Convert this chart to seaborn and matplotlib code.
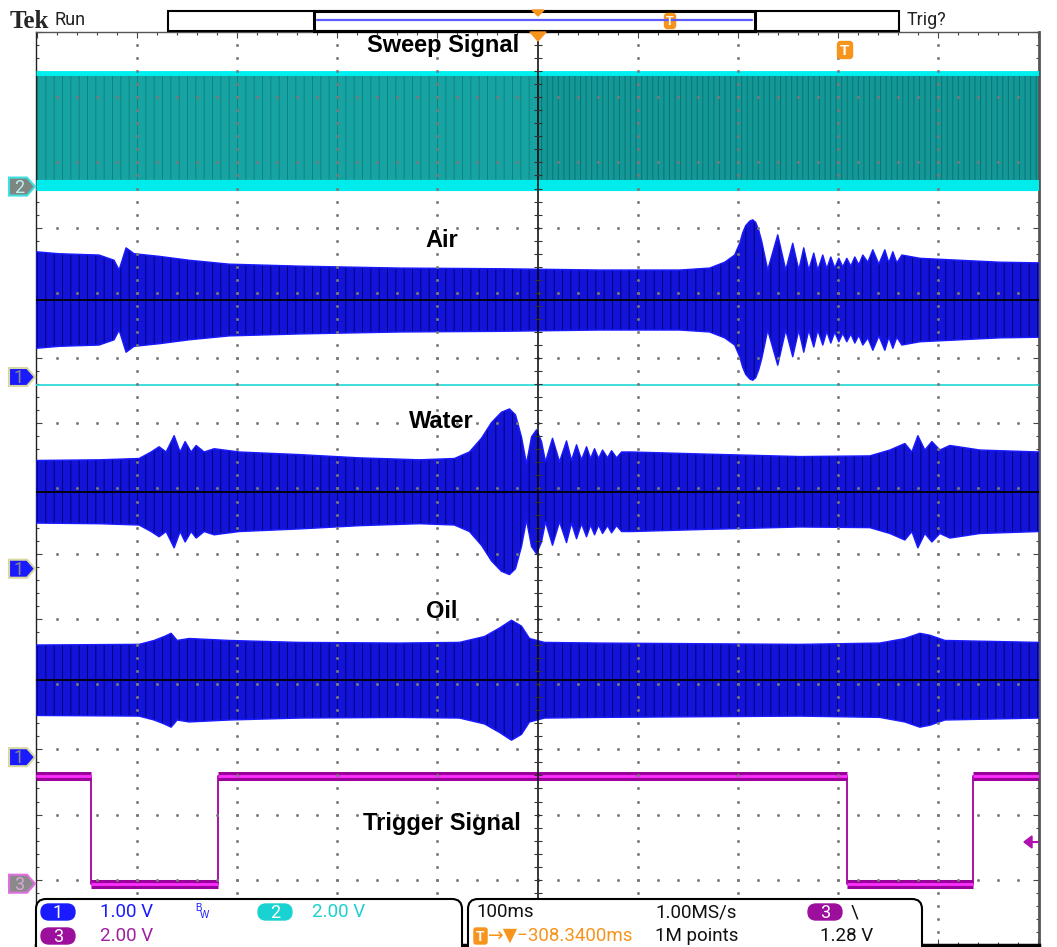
import numpy as np
import matplotlib
matplotlib.use("Agg")
import matplotlib.pyplot as plt
import seaborn as sns
from matplotlib.patches import FancyBboxPatch, Polygon, Rectangle

# ---------------- data ----------------
# horizontal: 100 ms/div (time in ms, 0 = screen centre); vertical: divisions
ch1_scale_v = 1.00
ch2_scale_v = 2.00
ch3_scale_v = 2.00

ch2_offset_div = 11.63
ch1_offsets_div = [8.71, 5.77, 2.88]          # Air, Water, Oil captures
ch3_offset_div = 0.94

sweep_t_ms = [-501, 0, 501]
sweep_low_v = 0.0
sweep_high_v = 3.47

ch1_dc_v = 1.18

air_t_ms = [-501, -478, -438, -423, -418, -411, -403, -378, -348, -308, -238, -138, -38, 62, 142,
            172, 187, 197, 202, 205, 208, 212, 215, 218, 221, 224, 230, 240, 248, 255, 261, 266,
            271, 276, 280, 285, 289, 293, 297, 301, 305, 309, 313, 317, 321, 325, 330, 335, 341,
            347, 351, 355, 359, 364, 382, 422, 462, 501]
air_amp_v = [0.74, 0.71, 0.69, 0.61, 0.46, 0.80, 0.71, 0.67, 0.61, 0.55, 0.52, 0.49, 0.48, 0.46, 0.46,
             0.49, 0.58, 0.69, 0.87, 1.03, 1.14, 1.21, 1.23, 1.19, 1.07, 0.90, 0.46, 1.00, 0.46, 0.87,
             0.46, 0.80, 0.46, 0.72, 0.46, 0.69, 0.48, 0.66, 0.49, 0.64, 0.51, 0.64, 0.52, 0.66, 0.54,
             0.69, 0.58, 0.77, 0.55, 0.77, 0.57, 0.74, 0.57, 0.69, 0.64, 0.61, 0.58, 0.57]

water_t_ms = [-501, -438, -398, -386, -378, -371, -363, -357, -352, -346, -341, -333, -323, -298,
              -238, -178, -118, -83, -68, -56, -46, -36, -28, -22, -16, -11, -6, -1, 4, 8, 15, 22,
              29, 34, 39, 44, 49, 53, 57, 61, 65, 70, 74, 79, 84, 94, 162, 262, 332, 352, 367, 374,
              380, 387, 394, 402, 412, 442, 501]
water_amp_v = [0.48, 0.49, 0.51, 0.61, 0.69, 0.61, 0.86, 0.61, 0.77, 0.61, 0.71, 0.61, 0.66, 0.61,
               0.57, 0.52, 0.49, 0.51, 0.61, 0.82, 1.06, 1.22, 1.27, 1.18, 0.84, 0.43, 0.84, 0.95,
               0.77, 0.46, 0.82, 0.46, 0.78, 0.48, 0.72, 0.49, 0.69, 0.51, 0.66, 0.51, 0.64, 0.52,
               0.63, 0.52, 0.61, 0.61, 0.58, 0.54, 0.55, 0.64, 0.74, 0.61, 0.86, 0.64, 0.77, 0.64,
               0.71, 0.64, 0.61]

oil_t_ms = [-501, -398, -383, -373, -366, -360, -348, -308, -238, -138, -78, -53, -38, -26, -16,
            -8, 7, 62, 262, 342, 367, 382, 392, 407, 501]
oil_amp_v = [0.54, 0.55, 0.61, 0.67, 0.72, 0.61, 0.64, 0.61, 0.58, 0.57, 0.58, 0.67, 0.80, 0.92,
             0.83, 0.64, 0.58, 0.57, 0.55, 0.57, 0.64, 0.72, 0.69, 0.61, 0.58]

trigger_t_ms = [-501, -446, -319, 309, 435, 501]
trigger_v = [3.3, 0.0, 3.3, 0.0, 3.3, 3.3]
trigger_level_v = 1.28

cyan_ref_div = 8.58

trace_names = ["Sweep Signal", "Air", "Water", "Oil", "Trigger Signal"]

# ---------------- styling ----------------
sns.set_theme(style="white")
plt.rcParams["font.family"] = ["Liberation Sans", "DejaVu Sans"]
plt.rcParams["hatch.linewidth"] = 0.7

W, H = 1057, 947
L, R, T, B = 36, 1039, 32, 945
fig = plt.figure(figsize=(W / 100, H / 100), dpi=100)
fig.patch.set_facecolor("white")
ax = fig.add_axes([L / W, (H - B) / H, (R - L) / W, (B - T) / H])
ax.set_facecolor("white")
ax.set_xlim(-501, 501)
ax.set_ylim(0, 14)

ORANGE = "#f7941d"
BLUE = "#1414d8"
CYAN = "#00ecec"
MAGENTA = "#b010b0"

# graticule
ax.set_xticks(np.arange(-500, 501, 100))
ax.set_xticks(np.arange(-500, 501, 20), minor=True)
ax.set_yticks(np.arange(0, 15, 1))
ax.set_yticks(np.arange(0, 14.01, 0.2), minor=True)
ax.tick_params(which="both", direction="in", top=True, right=True, bottom=True, left=True,
               labelbottom=False, labelleft=False, color="#444444", width=0.8)
ax.tick_params(which="major", length=4)
ax.tick_params(which="minor", length=2.5)
for side, lw, col in [("left", 1.0, "#222222"), ("top", 1.0, "#555555"),
                      ("right", 2.0, "#555555"), ("bottom", 2.5, "#000000")]:
    ax.spines[side].set_linewidth(lw)
    ax.spines[side].set_color(col)

gx = np.arange(-400, 401, 100)
gx = gx[gx != 0]
gy_minor = np.arange(0.2, 13.9, 0.2)
X, Y = np.meshgrid(gx, gy_minor)
ax.plot(X.ravel(), Y.ravel(), ls="none", marker="s", ms=1.0, color="#7a7a7a", zorder=6)
hy = np.arange(1, 14, 1)
tx = np.arange(-480, 481, 20)
X2, Y2 = np.meshgrid(tx, hy)
ax.plot(X2.ravel(), Y2.ravel(), ls="none", marker="s", ms=1.0, color="#7a7a7a", zorder=6)
ax.axvline(0, color="black", lw=1.1, zorder=6)
ax.plot(np.zeros_like(gy_minor), gy_minor, ls="none", marker="_", ms=6, mew=0.8,
        color="#333333", zorder=6)

# sweep signal (channel 2)
ys0 = ch2_offset_div + sweep_low_v / ch2_scale_v
ys1 = ch2_offset_div + sweep_high_v / ch2_scale_v
ax.fill_between(sweep_t_ms[:2], ys0, ys1, facecolor="#18a3a3", edgecolor="#0c8282",
                hatch="||", linewidth=0, zorder=2)
ax.fill_between(sweep_t_ms[1:], ys0, ys1, facecolor="#139797", edgecolor="#097474",
                hatch="|||", linewidth=0, zorder=2)
ax.hlines(ys1, sweep_t_ms[0], sweep_t_ms[-1], color="#00f0f0", lw=3.5, zorder=3)
ax.hlines(ys0 + 0.02, sweep_t_ms[0], sweep_t_ms[-1], color=CYAN, lw=8, zorder=3)
ax.axhline(cyan_ref_div, color="#20d8d8", lw=1.2, zorder=3)

# channel 1 captures
for t, a, off in zip([air_t_ms, water_t_ms, oil_t_ms],
                     [air_amp_v, water_amp_v, oil_amp_v], ch1_offsets_div):
    t = np.asarray(t, float)
    a = np.asarray(a, float) / ch1_scale_v
    c = off + ch1_dc_v / ch1_scale_v
    ax.fill_between(t, c - a, c + a, facecolor=BLUE, edgecolor="#00007a", hatch="||",
                    linewidth=0, zorder=3)
    ax.plot(t, c + a, color="#1a1aff", lw=1.0, zorder=3)
    ax.plot(t, c - a, color="#1a1aff", lw=1.0, zorder=3)
    ax.axhline(c, color="black", lw=1.3, zorder=4)

# trigger signal (channel 3)
ty = [ch3_offset_div + v / ch3_scale_v for v in trigger_v]
sns.lineplot(x=trigger_t_ms, y=ty, drawstyle="steps-post", color="#a000a0", lw=1.3,
             ax=ax, zorder=4, legend=False)
for i in range(len(trigger_t_ms) - 1):
    ax.hlines(ty[i], trigger_t_ms[i], trigger_t_ms[i + 1], color="#9a009a", lw=6.5, zorder=4)
    ax.hlines(ty[i], trigger_t_ms[i], trigger_t_ms[i + 1], color="#ff30ff", lw=2, zorder=4)

# trace labels
label_xy = [(-94, 13.79), (-96, 10.80), (-96, 8.02), (-96, 5.12), (-96, 1.86)]
for name, (lx, ly) in zip(trace_names, label_xy):
    ax.text(lx, ly, name, ha="center", va="center", fontsize=17, fontweight="bold",
            color="black", zorder=7)

# ---------------- overlay (pixel coordinates) ----------------
ov = fig.add_axes([0, 0, 1, 1])
ov.set_xlim(0, W)
ov.set_ylim(H, 0)
ov.axis("off")
ov.patch.set_alpha(0)


def ypix(div):
    return H - ax.transData.transform((0, div))[1]


def tmarker(xc, yc, w, h, fs):
    ov.add_patch(FancyBboxPatch((xc - w / 2, yc - h / 2), w, h,
                                boxstyle="round,pad=0,rounding_size=3", fc=ORANGE, ec=ORANGE))
    ov.text(xc, yc + 0.5, "T", ha="center", va="center", color="white", fontsize=fs,
            fontweight="bold")


# top bar
ov.text(10, 21, "Tek", family="Liberation Serif", fontweight="bold", fontsize=18, va="center")
ov.text(55, 20, "Run", family="Roboto", fontsize=13, color="#222222", va="center")
ov.add_patch(Rectangle((168, 11), 731, 20, fill=False, lw=1.5, ec="black"))
ov.add_patch(Rectangle((314, 11), 441, 20, fill=False, lw=2.2, ec="black"))
ov.plot([317, 752], [20, 20], color="#5b5bff", lw=1.6)
tmarker(670, 21, 11, 15, 9)
ov.add_patch(Polygon([(532, 10), (544, 10), (538, 16)], fc=ORANGE, ec=ORANGE))
ov.text(907, 20, "Trig?", family="Roboto", fontsize=13, color="#222222", va="center")

# graticule top markers
ov.add_patch(Polygon([(530, 32), (546, 32), (538, 41)], fc=ORANGE, ec=ORANGE))
tmarker(845, 50, 15, 17, 11)


# channel ground markers on the left
def chan_marker(yc, fill, edge, tcol, label):
    ov.add_patch(Polygon([(9, yc - 9), (27, yc - 9), (35, yc), (27, yc + 9), (9, yc + 9)],
                         fc=fill, ec=edge, lw=1.5))
    ov.text(19, yc + 1, label, ha="center", va="center", fontsize=13, color=tcol,
            family="Roboto")


chan_marker(ypix(ch2_offset_div), "#7c8782", "#40e0e0", "#bfeeee", "2")
for off in ch1_offsets_div:
    chan_marker(ypix(off), "#1a1aff", "#d8d8a0", "#8a8a8a", "1")
chan_marker(ypix(ch3_offset_div), "#8a8a8a", "#e070e0", "#d8a8d8", "3")

# trigger level arrow on the right
yl = ypix(ch3_offset_div + trigger_level_v / ch3_scale_v)
ov.add_patch(Polygon([(1024, yl), (1032, yl - 6), (1032, yl + 6)], fc=MAGENTA, ec=MAGENTA))
ov.plot([1030, 1038], [yl, yl], color=MAGENTA, lw=1.5)

# bottom info boxes
ov.add_patch(FancyBboxPatch((36, 899), 426, 70, boxstyle="round,pad=0,rounding_size=10",
                            fc="white", ec="black", lw=1.5, zorder=5))
ov.add_patch(FancyBboxPatch((468, 899), 454, 70, boxstyle="round,pad=0,rounding_size=10",
                            fc="white", ec="black", lw=1.5, zorder=5))


def pill(x0, yc, col, label):
    ov.add_patch(FancyBboxPatch((x0, yc - 8), 34, 16, boxstyle="round,pad=0,rounding_size=8",
                                fc=col, ec=col, zorder=6))
    ov.text(x0 + 17, yc + 0.5, label, ha="center", va="center", color="white", fontsize=13,
            family="Roboto", zorder=7)


FS = 13.5
txt = dict(va="center", fontsize=FS, family=["Roboto", "DejaVu Sans"], zorder=7)
pill(41, 912, "#1a1aff", "1")
ov.text(100, 912, "1.00 V", color="#1a1aff", **txt)
ov.text(195, 908, "B", color="#1a1aff", fontsize=7, va="center", zorder=7)
ov.text(200, 915, "W", color="#1a1aff", fontsize=7, va="center", zorder=7)
pill(258, 912, "#19d3d3", "2")
ov.text(312, 912, "2.00 V", color="#1fd0d0", **txt)
pill(41, 936, "#9c0f9c", "3")
ov.text(100, 936, "2.00 V", color="#a020a0", **txt)

ov.text(476, 912, "100ms", color="#111111", **txt)
ov.text(655, 912, "1.00MS/s", color="#111111", **txt)
pill(808, 912, "#9c0f9c", "3")
ov.text(851, 912, "\\", color="#111111", **txt)
ov.add_patch(FancyBboxPatch((474, 928), 13, 16, boxstyle="round,pad=0,rounding_size=2",
                            fc=ORANGE, ec=ORANGE, zorder=6))
ov.text(480.5, 936.5, "T", ha="center", va="center", color="white", fontsize=10,
        fontweight="bold", zorder=7)
ov.text(488, 936, "\u2192\u25bc\u2212308.3400ms", color=ORANGE, **txt)
ov.text(655, 936, "1M points", color="#111111", **txt)
ov.text(820, 936, "1.28 V", color="#111111", **txt)

fig.savefig("out.png", dpi=100, facecolor="white")
